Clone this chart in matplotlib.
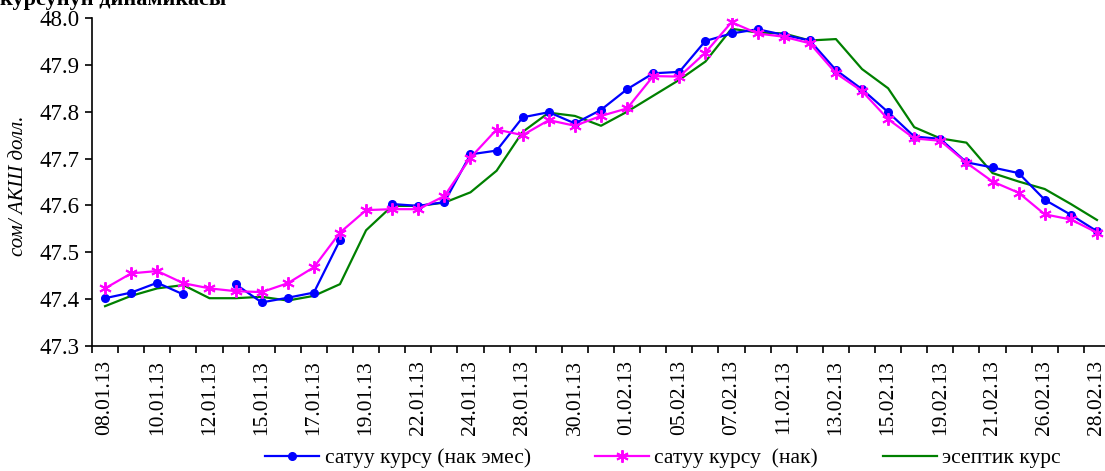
import matplotlib
matplotlib.use('Agg')
import matplotlib.pyplot as plt
import numpy as np

dates = ["08.01.13", "09.01.13", "10.01.13", "11.01.13", "12.01.13", "14.01.13",
         "15.01.13", "16.01.13", "17.01.13", "18.01.13", "19.01.13", "21.01.13",
         "22.01.13", "23.01.13", "24.01.13", "25.01.13", "28.01.13", "29.01.13",
         "30.01.13", "31.01.13", "01.02.13", "04.02.13", "05.02.13", "06.02.13",
         "07.02.13", "08.02.13", "11.02.13", "12.02.13", "13.02.13", "14.02.13",
         "15.02.13", "18.02.13", "19.02.13", "20.02.13", "21.02.13", "22.02.13",
         "26.02.13", "27.02.13", "28.02.13"]

# satuu kursu (nak emes) - gaps where no quote
sell_noncash = [47.402, 47.414, 47.435, 47.410, np.nan, 47.432, 47.393, 47.403,
                47.414, 47.526, np.nan, 47.603, 47.599, 47.607, 47.709, 47.717,
                47.788, 47.799, 47.775, 47.804, 47.848, 47.882, 47.885, 47.951,
                47.967, 47.976, 47.964, 47.952, 47.889, 47.848, 47.799, 47.747,
                47.742, 47.692, 47.681, 47.669, 47.612, 47.580, 47.545]

# satuu kursu (nak)
sell_cash = [47.423, 47.455, 47.460, 47.434, 47.423, 47.417, 47.415, 47.434,
             47.468, 47.542, 47.590, 47.592, 47.592, 47.620, 47.702, 47.762,
             47.750, 47.782, 47.770, 47.791, 47.807, 47.876, 47.875, 47.926,
             47.991, 47.967, 47.960, 47.946, 47.882, 47.844, 47.784, 47.743,
             47.738, 47.691, 47.651, 47.627, 47.581, 47.570, 47.542]

# eseptik kurs
official = [47.385, 47.407, 47.423, 47.430, 47.402, 47.402, 47.405, 47.397,
            47.407, 47.432, 47.547, 47.599, 47.599, 47.606, 47.628, 47.674,
            47.757, 47.798, 47.791, 47.770, 47.800, 47.834, 47.868, 47.907,
            47.977, 47.969, 47.967, 47.952, 47.955, 47.891, 47.850, 47.767,
            47.743, 47.734, 47.669, 47.651, 47.635, 47.603, 47.569]

plt.rcParams['font.family'] = ['Liberation Serif', 'DejaVu Serif']

fig = plt.figure(figsize=(11.05, 4.71), dpi=100)
ax = fig.add_axes([92 / 1105, 125 / 471, 1018 / 1105, 328 / 471])

x = np.arange(len(dates))
ax.plot(x, sell_noncash, color='#0000FF', lw=1.6, marker='o', ms=5.5,
        label='сатуу курсу (нак эмес)', zorder=3)
ax.plot(x, sell_cash, color='#FF00FF', lw=1.6, marker=(6, 2, 0), ms=9, mew=1.4,
        label='сатуу курсу  (нак)', zorder=4)
ax.plot(x, official, color='#008000', lw=1.6, label='эсептик курс', zorder=2)

ax.set_xlim(-0.5, len(dates) - 0.5)
ax.set_ylim(47.3, 48.0)
ax.set_yticks(np.arange(47.3, 48.01, 0.1))
ax.set_yticklabels([f"{v:.1f}" for v in np.arange(47.3, 48.01, 0.1)], fontsize=16.5)

ax.set_xticks(np.arange(-0.5, len(dates), 1))
ax.set_xticklabels([])
ax.set_xticks(x[::2], minor=True)
ax.set_xticklabels(dates[::2], minor=True, rotation=90, fontsize=15.5)
ax.tick_params(axis='x', which='major', direction='out', length=5, width=1.2)
ax.tick_params(axis='x', which='minor', length=0, pad=10)
ax.tick_params(axis='y', direction='out', length=5, width=1.2, pad=4)

for s in ['top', 'right']:
    ax.spines[s].set_visible(False)
ax.spines['left'].set_linewidth(1.2)
ax.spines['bottom'].set_linewidth(1.2)

ax.set_ylabel('сом/ АКШ долл.', fontsize=15, style='italic')
ax.yaxis.set_label_coords(-0.063, 0.49)

# title is partly cut off at the top edge, as in the source
fig.text(0.0, 1.0, 'курсунун динамикасы', fontsize=16, fontweight='bold',
         va='center', ha='left')

fig.legend(loc='center', bbox_to_anchor=(0.6, 0.027), ncol=3, frameon=False,
           fontsize=15.5, numpoints=1, handlelength=2.5, handletextpad=0.25,
           columnspacing=3.0)

plt.savefig('out.png', dpi=100)
plt.close(fig)
